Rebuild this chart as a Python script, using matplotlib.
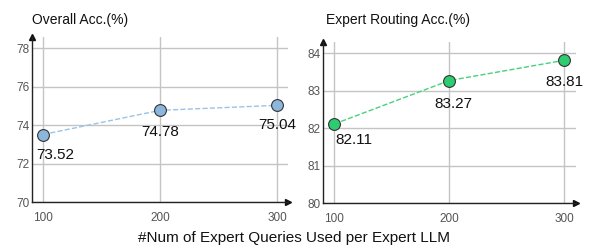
import matplotlib
matplotlib.use("Agg")
from matplotlib import pyplot as plt

plt.rcParams['font.family'] = ['Liberation Sans', 'DejaVu Sans']

num_queries = [100, 200, 300]
overall_acc = [73.52, 74.78, 75.04]
routing_acc = [82.11, 83.27, 83.81]

overall_yticks = [70, 72, 74, 76, 78]
routing_yticks = [80, 81, 82, 83, 84]


def style_axes(ax, yticks, xlim, ylim):
    ax.set_xlim(*xlim)
    ax.set_ylim(*ylim)
    ax.set_xticks(num_queries)
    ax.set_yticks(yticks)
    ax.grid(True, color="#c4c4c4", linewidth=1.0)
    ax.set_axisbelow(True)
    for side in ["top", "right"]:
        ax.spines[side].set_visible(False)
    for side in ["left", "bottom"]:
        ax.spines[side].set_color("#222222")
        ax.spines[side].set_linewidth(1.0)
    ax.tick_params(length=0, labelsize=8.5, labelcolor="#555555", pad=2)
    ax.tick_params(axis='x', pad=7)
    # arrow heads on the axes
    ax.plot(1, 0, ">", color="#111111", markersize=4, transform=ax.transAxes, clip_on=False)
    ax.plot(0, 1, "^", color="#111111", markersize=4, transform=ax.transAxes, clip_on=False)


fig = plt.figure(figsize=(5.93, 2.48), dpi=100)
ax1 = fig.add_axes([0.054, 0.185, 0.432, 0.666])
ax2 = fig.add_axes([0.545, 0.181, 0.427, 0.65])

style_axes(ax1, overall_yticks, (90.6, 309.4), (70, 78.6))
style_axes(ax2, routing_yticks, (90.4, 310.4), (80, 84.3))

ax1.plot(num_queries, overall_acc, linestyle="--", color="#9cc3e5", linewidth=1.0,
         marker="o", markersize=8.5, markerfacecolor="#8db6dd", markeredgecolor="#333333",
         markeredgewidth=0.8)
ax2.plot(num_queries, routing_acc, linestyle="--", color="#45d27a", linewidth=1.0,
         marker="o", markersize=8.5, markerfacecolor="#2ecc71", markeredgecolor="#333333",
         markeredgewidth=0.8)

offsets1 = [(12, -20), (0, -22), (0, -20)]
offsets2 = [(20, -16), (4, -23), (0, -22)]
for x, y, off in zip(num_queries, overall_acc, offsets1):
    ax1.annotate(f"{y:.2f}", (x, y), xytext=off, textcoords="offset pixels",
                 ha="center", va="center", fontsize=11, color="#111111", annotation_clip=False)
for x, y, off in zip(num_queries, routing_acc, offsets2):
    ax2.annotate(f"{y:.2f}", (x, y), xytext=off, textcoords="offset pixels",
                 ha="center", va="center", fontsize=11, color="#111111", annotation_clip=False)

fig.text(0.054, 0.92, "Overall Acc.(%)", fontsize=10, color="#111111", va="center")
fig.text(0.55, 0.92, "Expert Routing Acc.(%)", fontsize=10, color="#111111", va="center")
fig.text(0.495, 0.04, "#Num of Expert Queries Used per Expert LLM", fontsize=11,
         color="#111111", ha="center", va="center")

fig.savefig("out.png", dpi=100)
